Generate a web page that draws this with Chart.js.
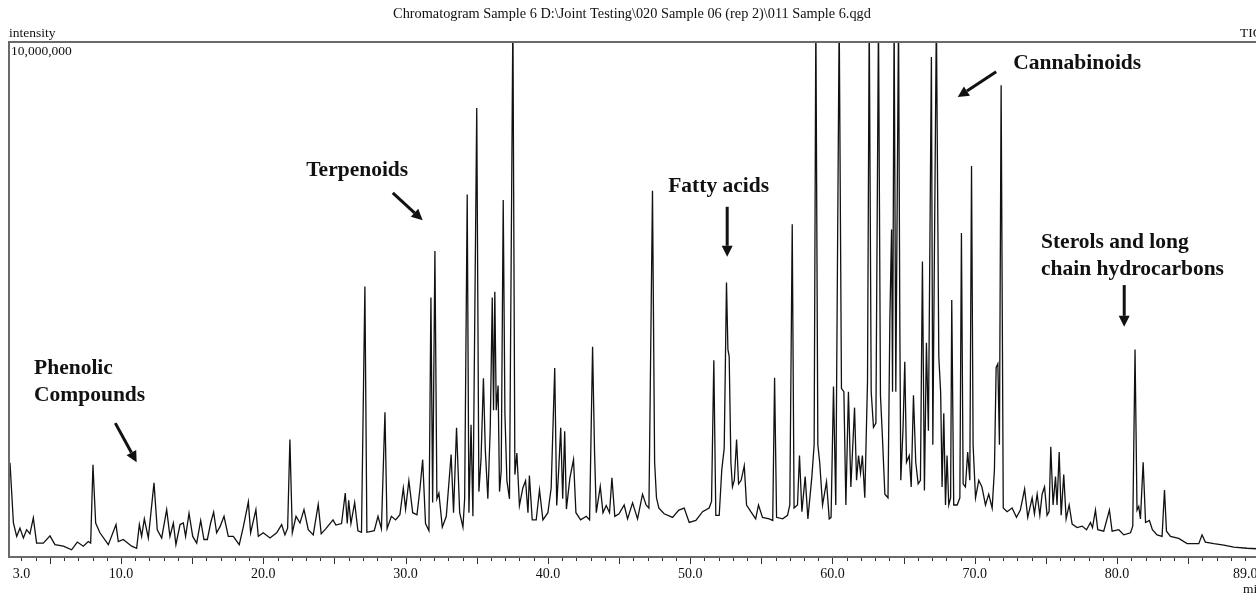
<!DOCTYPE html>
<html>
<head>
<meta charset="utf-8">
<script src="https://cdn.jsdelivr.net/npm/chart.js@4"></script>
<style>
  html, body { margin: 0; padding: 0; background: #fff; }
  .wrap { width: 1256px; height: 593px; overflow: hidden; position: relative; }
  canvas { display: block; }
</style>
</head>
<body>
<div class="wrap"><canvas id="tic" width="1290" height="593"></canvas></div>
<script>
// retention time, minutes
const times = [
  2.20, 2.44, 2.67, 2.90, 3.14, 3.37, 3.60, 3.84, 4.07, 4.54, 5.01, 5.36, 5.95, 6.53, 6.93, 7.35, 7.70, 7.87,
  8.03, 8.22, 8.52, 9.11, 9.65, 9.81, 10.16, 10.75, 11.10, 11.29, 11.45, 11.64, 11.92, 12.32, 12.55, 12.86,
  13.21, 13.44, 13.68, 13.86, 14.15, 14.38, 14.54, 14.78, 15.04, 15.32, 15.60, 15.83, 16.07, 16.30, 16.51,
  16.72, 16.96, 17.24, 17.54, 17.89, 18.31, 18.60, 18.95, 19.11, 19.48, 19.65, 20.00, 20.47, 20.94, 21.29,
  21.52, 21.71, 21.87, 22.04, 22.30, 22.58, 22.86, 23.16, 23.51, 23.86,
  24.07, 24.40, 24.90, 25.10, 25.50, 25.76, 25.90, 26.00, 26.16, 26.42, 26.65, 26.90, 27.14, 27.28, 27.80,
  28.06, 28.30, 28.55, 28.70, 29.00, 29.30, 29.60, 29.84, 30.00, 30.23, 30.50, 30.80, 31.00, 31.20, 31.40,
  31.64, 31.78, 31.90, 32.06, 32.20, 32.34, 32.58, 32.86, 33.20, 33.37, 33.58, 33.80, 34.03, 34.15, 34.33,
  34.45, 34.60, 34.73, 35.00, 35.15, 35.30, 35.47, 35.60, 35.78, 35.95, 36.09, 36.18, 36.27, 36.37, 36.50,
  36.60, 36.72, 36.86, 36.98, 37.12, 37.30, 37.54, 37.68, 37.82, 38.00, 38.24, 38.43, 38.60, 38.70, 38.90,
  39.18, 39.41, 39.65, 40.00, 40.23, 40.48, 40.62, 40.77, 40.90, 41.04, 41.18, 41.30, 41.55, 41.80, 41.97,
  42.30, 42.70, 42.93, 43.14, 43.28, 43.40, 43.68, 43.87, 44.10, 44.33, 44.50, 44.70, 45.00,
  45.36, 45.60, 45.95, 46.30, 46.65, 46.90, 47.10, 47.35, 47.50, 47.63, 47.80, 48.17, 48.76, 49.20, 49.58,
  49.93, 50.40, 50.87, 51.33, 51.50, 51.66, 51.80, 52.04, 52.22, 52.39, 52.55, 52.65, 52.74, 52.86, 52.97,
  53.10, 53.26, 53.40, 53.58, 53.80, 53.96, 54.26, 54.60, 54.80, 55.08, 55.55, 55.80, 55.93, 56.07, 56.50,
  56.84, 57.00, 57.17, 57.30, 57.54, 57.68, 57.85, 58.08, 58.27, 58.55, 58.71, 58.83, 58.97, 59.10, 59.30,
  59.58, 59.77, 59.90, 60.07, 60.23, 60.47, 60.63, 60.80, 60.94, 61.12, 61.29, 61.55, 61.69, 61.83, 61.97,
  62.10, 62.27, 62.46, 62.58, 62.72, 62.88, 63.05, 63.23, 63.37, 63.50, 63.68, 63.90, 64.03, 64.15, 64.22,
  64.33, 64.45, 64.64, 64.73, 64.80, 64.96, 65.08, 65.20, 65.39, 65.53, 65.69, 65.85, 66.02, 66.18, 66.32,
  66.46, 66.60, 66.74, 66.95, 67.05, 67.30,
  67.47, 67.60, 67.70, 67.82, 67.94, 68.05, 68.17, 68.30, 68.38, 68.52, 68.76, 68.95, 69.06, 69.18, 69.34,
  69.50, 69.65, 69.77, 69.88, 70.05, 70.28, 70.50, 70.75, 70.98, 71.22, 71.38, 71.50, 71.62, 71.73, 71.85,
  72.00, 72.27, 72.62, 72.93, 73.20, 73.50, 73.72, 74.03, 74.19, 74.38, 74.57, 74.73, 74.90, 75.08, 75.22,
  75.34, 75.50, 75.67, 75.78, 75.93, 76.07, 76.25, 76.42, 76.63, 76.84, 77.19, 77.54, 77.85, 78.13, 78.27,
  78.48, 78.64, 79.06, 79.46, 79.65, 80.12, 80.47, 80.94, 81.10, 81.26, 81.40, 81.52, 81.64, 81.83, 82.00,
  82.27, 82.48, 82.81, 83.16, 83.33, 83.47, 83.75, 84.33, 84.92, 85.74, 85.97, 86.20, 86.80, 87.50, 88.20,
  89.13, 89.80
];

// TIC intensity, millions of counts (peaks above 10 run off the top)
const intensity = [
  1.83, 0.66, 0.40, 0.56, 0.37, 0.53, 0.45, 0.76, 0.27, 0.27, 0.41, 0.24, 0.21, 0.14, 0.29, 0.21, 0.30, 0.27,
  1.79, 0.66, 0.47, 0.24, 0.63, 0.30, 0.34, 0.21, 0.17, 0.63, 0.40, 0.74, 0.37, 1.44, 0.53, 0.37,
  0.92, 0.40, 0.66, 0.24, 0.63, 0.66, 0.40, 0.85, 0.40, 0.27, 0.71, 0.34, 0.34, 0.66, 0.87,
  0.47, 0.59, 0.79, 0.40, 0.40, 0.24, 0.59, 1.07, 0.47, 0.92, 0.40, 0.47, 0.37, 0.47, 0.63,
  0.43, 0.56, 2.28, 0.47, 0.79, 0.66, 0.92, 0.53, 0.43, 1.02,
  0.45, 0.55, 0.72, 0.62, 0.65, 1.24, 0.65, 1.10, 0.65, 1.06, 0.51, 0.48, 5.25, 0.48, 0.51,
  0.79, 0.55, 2.81, 0.55, 0.79, 0.72, 0.82, 1.34, 0.93, 1.48, 0.86, 0.82, 1.30, 1.89, 0.65,
  0.51, 5.04, 1.06, 5.94, 1.13, 1.24, 0.58, 0.79, 1.99, 0.86, 2.51, 0.86, 0.58, 1.13, 7.04,
  0.86, 2.57, 0.79, 8.72, 1.27, 1.89, 3.47, 2.09, 1.13, 2.51, 5.04, 2.85, 5.15, 2.85, 3.33,
  1.27, 1.68, 6.93, 2.78, 1.48, 1.13, 10.5, 1.60, 2.02, 1.00, 1.34, 1.48, 0.86, 1.58, 0.72,
  0.72, 1.30, 0.72, 0.86, 1.34, 3.67, 1.00, 1.75, 2.51, 1.13, 2.44, 0.93, 1.54, 1.89, 0.86,
  0.72, 0.79, 0.72, 4.08, 2.02, 0.86, 1.37, 0.86, 1.00, 0.86, 1.54, 0.79, 0.84,
  1.01, 0.74, 1.05, 0.74, 1.22, 1.01, 0.95, 7.11, 1.84, 1.15, 0.95, 0.84, 0.77, 0.91, 0.95,
  0.67, 0.71, 0.88, 0.95, 1.08, 3.82, 0.81, 0.81, 1.70, 2.11, 5.33, 4.03, 3.89, 1.84, 1.36,
  1.49, 2.28, 1.42, 1.49, 1.77, 1.01, 0.88, 0.74, 1.01, 0.77, 0.74, 0.71, 3.48, 0.77, 0.74,
  0.81, 1.01, 6.46, 0.95, 1.01, 1.97, 0.88, 1.56, 0.74, 1.56, 2.18, 10.5, 2.18, 1.84, 1.01,
  1.46, 0.74, 0.77, 3.31, 1.01, 10.5, 3.27, 3.21, 1.01, 3.21, 1.36, 2.90, 1.49, 1.97, 1.63,
  1.97, 1.15, 3.41, 10.5, 3.21, 2.52, 2.60, 10.5, 3.14, 2.38, 1.22, 1.15, 4.58, 6.36, 3.21,
  10.5, 3.21, 10.5, 4.58, 1.49, 2.52, 3.79, 1.84, 1.97, 1.36, 3.14, 1.84, 1.42, 1.49, 5.74,
  1.29, 4.16, 2.45, 9.71, 2.18, 10.5,
  3.89, 3.20, 1.36, 2.79, 1.01, 1.97, 1.01, 1.15, 4.99, 1.01, 1.01, 1.15, 6.29, 1.42, 1.36,
  2.04, 1.49, 7.59, 2.18, 1.15, 1.49, 1.36, 1.01, 1.22, 0.95, 1.70, 3.68, 3.75, 2.18, 9.16,
  0.95, 0.88, 0.95, 0.77, 0.91, 1.32, 0.77, 1.15, 0.84, 1.22, 0.81, 1.22, 1.36, 0.81, 0.88,
  2.14, 1.01, 1.56, 1.01, 2.04, 0.81, 1.60, 0.74, 1.01, 0.64, 0.57, 0.60, 0.53, 0.67, 0.57,
  0.91, 0.53, 0.50, 0.91, 0.50, 0.53, 0.43, 0.47, 0.60, 4.03, 0.91, 0.98, 0.74, 1.84, 0.67,
  0.71, 0.53, 0.43, 0.40, 1.30, 0.50, 0.40, 0.36, 0.26, 0.26, 0.43, 0.29, 0.26, 0.23, 0.19,
  0.17, 0.16
];

const tickLabels = [3, 10, 20, 30, 40, 50, 60, 70, 80, 89];
const yMax = 10; // millions

const title = 'Chromatogram Sample 6 D:\\Joint Testing\\020 Sample 06 (rep 2)\\011 Sample 6.qgd';

// annotation text + arrows, placed in (minutes, millions)
const notes = [
  { lines: ['Terpenoids'], at: [26.6, 7.51], align: 'center', from: [29.1, 7.07], to: [31.2, 6.54] },
  { lines: ['Fatty acids'], at: [52.0, 7.20], align: 'center', from: [52.6, 6.80], to: [52.6, 5.83] },
  { lines: ['Cannabinoids'], at: [77.2, 9.59], align: 'center', from: [71.5, 9.42], to: [68.8, 8.93] },
  { lines: ['Sterols and long', 'chain hydrocarbons'], at: [74.65, 6.10], align: 'left', from: [80.5, 5.28], to: [80.5, 4.47] },
  { lines: ['Phenolic', 'Compounds'], at: [3.89, 3.67], align: 'left', from: [9.6, 2.60], to: [11.1, 1.84] }
];

function arrow(ctx, x1, y1, x2, y2) {
  const ang = Math.atan2(y2 - y1, x2 - x1);
  const hl = 11, hw = 5.5;
  const bx = x2 - hl * Math.cos(ang), by = y2 - hl * Math.sin(ang);
  ctx.beginPath();
  ctx.moveTo(x1, y1);
  ctx.lineTo(bx, by);
  ctx.stroke();
  ctx.beginPath();
  ctx.moveTo(x2, y2);
  ctx.lineTo(bx + hw * Math.sin(ang), by - hw * Math.cos(ang));
  ctx.lineTo(bx - hw * Math.sin(ang), by + hw * Math.cos(ang));
  ctx.closePath();
  ctx.fill();
}

const decor = {
  id: 'decor',
  afterDatasetsDraw(chart) {
    const { ctx, chartArea: a, scales: { x, y } } = chart;
    ctx.save();

    ctx.strokeStyle = '#6a6a6a';
    ctx.lineWidth = 2;
    ctx.strokeRect(a.left, a.top, a.right - a.left, a.bottom - a.top);

    // minute ticks under the axis
    ctx.strokeStyle = '#333';
    ctx.lineWidth = 1;
    for (let t = 3; t <= 92; t++) {
      const px = Math.round(x.getPixelForValue(t)) + 0.5;
      const len = t % 5 === 0 ? 6 : 3;
      ctx.beginPath();
      ctx.moveTo(px, a.bottom + 1);
      ctx.lineTo(px, a.bottom + 1 + len);
      ctx.stroke();
    }

    ctx.fillStyle = '#111';
    ctx.textBaseline = 'middle';
    ctx.font = '14.3px "Liberation Serif"';
    ctx.textAlign = 'center';
    ctx.fillText(title, 632, 14);
    ctx.font = '13.5px "Liberation Serif"';
    ctx.textAlign = 'left';
    ctx.fillText('intensity', a.left, 33);
    ctx.fillText('TIC', 1240, 33);
    ctx.fillText((yMax * 1e6).toLocaleString('en-US'), a.left + 2, y.getPixelForValue(yMax) + 9);
    ctx.fillText('min', 1243, 589);

    ctx.font = 'bold 21.5px "Liberation Serif"';
    ctx.lineWidth = 3;
    ctx.strokeStyle = '#111';
    notes.forEach(n => {
      ctx.textAlign = n.align;
      const px = x.getPixelForValue(n.at[0]);
      const py = y.getPixelForValue(n.at[1]);
      n.lines.forEach((s, i) => ctx.fillText(s, px, py + i * 27));
      arrow(ctx, x.getPixelForValue(n.from[0]), y.getPixelForValue(n.from[1]),
                 x.getPixelForValue(n.to[0]), y.getPixelForValue(n.to[1]));
    });
    ctx.restore();
  }
};

new Chart(document.getElementById('tic'), {
  type: 'line',
  data: {
    datasets: [{
      data: times.map((t, i) => ({ x: t, y: intensity[i] })),
      borderColor: '#111',
      borderWidth: 1.3,
      pointRadius: 0,
      tension: 0,
      fill: false
    }]
  },
  options: {
    responsive: false,
    animation: false,
    events: [],
    layout: { padding: { left: 9, top: 42, right: 0, bottom: 0 } },
    plugins: { legend: { display: false }, tooltip: { enabled: false } },
    scales: {
      x: {
        type: 'linear',
        min: 2.13,
        max: 92.15,
        afterBuildTicks: s => { s.ticks = tickLabels.map(v => ({ value: v })); },
        afterFit: s => { s.height = 36; },
        grid: { display: false, drawTicks: false },
        border: { display: false },
        ticks: {
          autoSkip: false,
          maxRotation: 0,
          padding: 9,
          color: '#111',
          font: { family: 'Liberation Serif', size: 14 },
          callback: v => Number(v).toFixed(1)
        }
      },
      y: { display: false, min: 0, max: yMax }
    }
  },
  plugins: [decor]
});
</script>
</body>
</html>
